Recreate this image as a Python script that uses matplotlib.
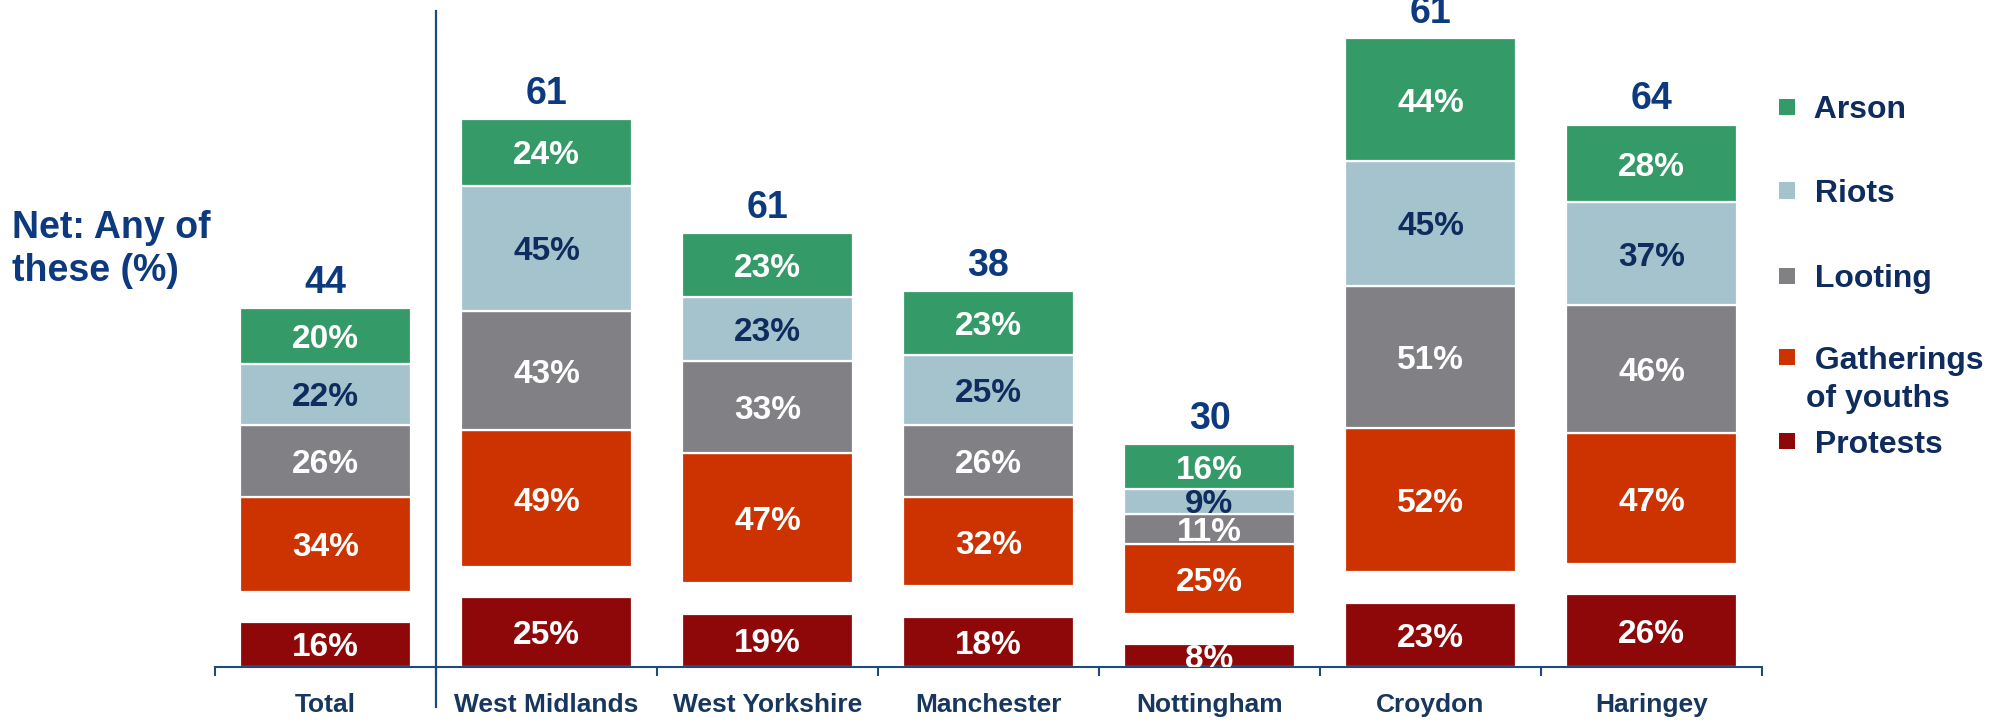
import matplotlib
matplotlib.use("Agg")
import matplotlib.pyplot as plt
from matplotlib.patches import Rectangle
import numpy as np

# ---- data ----
categories = ["Total", "West Midlands", "West Yorkshire", "Manchester",
              "Nottingham", "Croydon", "Haringey"]
protests = [16, 25, 19, 18, 8, 23, 26]
gatherings = [34, 49, 47, 32, 25, 52, 47]
looting = [26, 43, 33, 26, 11, 51, 46]
riots = [22, 45, 23, 25, 9, 45, 37]
arson = [20, 24, 23, 23, 16, 44, 28]
net_any = [44, 61, 61, 38, 30, 61, 64]

series_names = ["Protests", "Gatherings of youths", "Looting", "Riots", "Arson"]
legend_labels = [" Protests", " Gatherings\nof youths", " Looting", " Riots", " Arson"]

# ---- style ----
NAVY = "#0D3A7E"
DARKNAVY = "#0E2C5E"
TICKC = "#17375E"
AXISC = "#1F4A7C"
colors = ["#8E080A", "#CC3300", "#818085", "#A4C3CC", "#349A68"]
label_colors = ["white", "white", "white", DARKNAVY, "white"]
GAP = 11  # visual spacer between first and second segment

plt.rcParams['font.family'] = ['Liberation Sans', 'DejaVu Sans']

W, H = 2003, 720
fig = plt.figure(figsize=(W / 100, H / 100), dpi=100)
ax_left, ax_right, ax_base = 215, 1762, 666.7
ax = fig.add_axes([ax_left / W, 1 - ax_base / H, (ax_right - ax_left) / W, ax_base / H])

x = np.arange(len(categories))
values = [protests, gatherings, looting, riots, arson]
bottom = np.zeros(len(categories))
for i, (vals, name, col, lc) in enumerate(zip(values, series_names, colors, label_colors)):
    vals = np.asarray(vals, dtype=float)
    bars = ax.bar(x, vals, width=0.77, bottom=bottom, color=col, edgecolor="white",
                  linewidth=1.6, label=name, zorder=2)
    for rect, v in zip(bars, vals):
        ax.text(rect.get_x() + rect.get_width() / 2, rect.get_y() + rect.get_height() / 2,
                f"{int(v)}%", ha="center", va="center_baseline", color=lc,
                fontsize=24, fontweight="bold", clip_on=True, zorder=3)
    bottom = bottom + vals
    if i == 0:
        bottom = bottom + GAP

for xi, top, n in zip(x, bottom, net_any):
    ax.annotate(f"{n}", (xi, top), xytext=(0, 21), textcoords="offset points",
                ha="center", va="center_baseline", fontsize=27, fontweight="bold",
                color=NAVY, annotation_clip=False)

ax.set_xlim(-0.5, len(categories) - 0.5)
ax.set_ylim(0, ax_base / 2.78)
ax.set_yticks([])
for s in ["left", "right", "top"]:
    ax.spines[s].set_visible(False)
ax.spines["bottom"].set_color(AXISC)
ax.spines["bottom"].set_linewidth(1.5)

ax.set_xticks(x)
ax.set_xticklabels(categories, fontsize=19, fontweight="bold", color=TICKC)
ax.tick_params(axis="x", which="major", length=0, pad=19)
ax.set_xticks(np.arange(-0.5, len(categories), 1.0), minor=True)
ax.tick_params(axis="x", which="minor", length=6.5, width=1.5, color=AXISC, direction="out")

# separator after Total
ax.plot([0.5, 0.5], [-(707 - ax_base) / 2.78, (ax_base - 11) / 2.78], color=AXISC,
        lw=1.6, clip_on=False, zorder=1)

# side title
fig.text(12 / W, 1 - 210 / H, "Net: Any of\nthese (%)", fontsize=27, fontweight="bold",
         color=NAVY, ha="left", va="top", linespacing=1.26)

# legend (top to bottom: Arson ... Protests)
leg_y = [441, 357, 275.5, 190.5, 107]
for lab, col, yc in zip(legend_labels, colors, leg_y):
    fig.add_artist(Rectangle((1779 / W, 1 - (yc + 8) / H), 16 / W, 16 / H,
                             transform=fig.transFigure, facecolor=col, edgecolor="none"))
    for k, line in enumerate(lab.split("\n")):
        fig.text(1806 / W, 1 - (yc + 38 * k) / H, line, fontsize=23, fontweight="bold",
                 color=DARKNAVY, ha="left", va="center_baseline")

fig.savefig("out.png", dpi=100)
